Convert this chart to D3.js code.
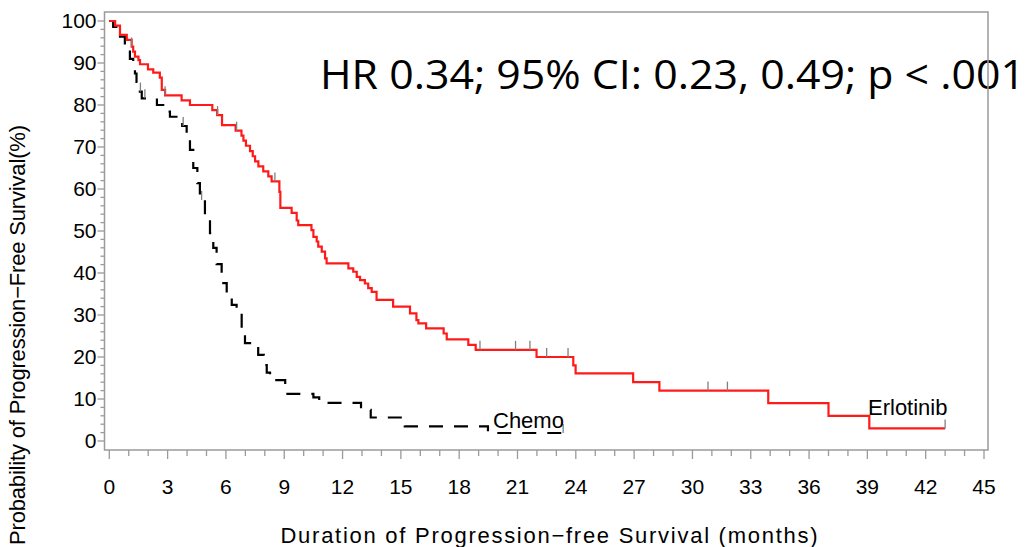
<!DOCTYPE html>
<html lang="en">
<head>
    <meta charset="UTF-8">
    <title>Progression-free Survival</title>
    <script src="https://d3js.org/d3.v7.min.js"></script>
    <style>
        * { margin: 0; padding: 0; box-sizing: border-box; }
        body { background: #fff; width: 1027px; height: 547px; overflow: hidden; }
        text { font-family: "Liberation Sans", Arial, sans-serif; fill: #000; }
    </style>
</head>
<body>
    <div id="chart"></div>

    <script>
        // Kaplan-Meier steps (months, % progression-free)
        const erlotinibTime = [0, 0.3, 0.55, 0.9, 1.15, 1.23, 1.32, 1.5, 1.58, 1.99, 2.26, 2.6, 2.7, 2.87, 3.72, 4.15, 5.3, 5.55, 5.8, 6.5, 6.8, 6.9, 7.03, 7.24, 7.38, 7.5, 7.67, 7.92, 8.18, 8.35, 8.75, 8.8, 9.38, 9.64, 9.72, 10.4, 10.5, 10.67, 10.75, 10.93, 11.1, 11.18, 12.3, 12.55, 12.73, 12.9, 13.15, 13.32, 13.5, 13.75, 14.6, 15.47, 15.8, 15.9, 16.3, 17.2, 17.36, 18.47, 18.85, 21.98, 23.87, 23.99, 26.95, 28.3, 33.9, 37.0, 39.1, 43.0];
        const erlotinibSurv = [100, 98.9, 96.7, 95.5, 93.9, 92.7, 91.5, 90.7, 89.7, 88.5, 87.7, 86.5, 83.6, 82.3, 81.1, 80.0, 78.8, 77.6, 75.2, 73.9, 72.7, 71.5, 70.3, 69.0, 67.8, 66.6, 65.4, 64.2, 63.0, 61.8, 59.3, 55.5, 54.3, 52.5, 51.4, 50.2, 48.6, 47.5, 46.3, 45.1, 43.5, 42.3, 41.1, 40.3, 39.1, 38.3, 37.5, 36.4, 35.5, 33.6, 32.0, 30.4, 28.8, 28.0, 26.8, 25.6, 24.2, 22.9, 21.7, 20.0, 18.0, 16.1, 14.0, 12.0, 9.0, 6.0, 3.0, 3.0];
        const erlotinibCensor = [1.15, 2.87, 5.57, 6.55, 8.52, 19.07, 20.9, 21.64, 22.5, 23.6, 30.8, 31.8, 43.0];

        const chemoTime = [0, 0.2, 0.55, 0.8, 1.06, 1.23, 1.32, 1.4, 1.5, 1.67, 2.45, 2.95, 3.12, 3.75, 3.98, 4.15, 4.32, 4.53, 4.66, 4.92, 5.18, 5.35, 5.52, 5.78, 6.04, 6.3, 6.55, 6.81, 6.98, 7.66, 7.95, 8.1, 8.27, 9.05, 10.5, 10.8, 12.95, 13.45, 15.2, 19.48, 23.35];
        const chemoSurv = [100, 98.6, 96.3, 94.4, 91.0, 88.3, 87.5, 85.5, 83.2, 81.6, 80.0, 78.4, 77.2, 75.0, 72.4, 69.3, 65.0, 61.4, 57.4, 53.8, 49.5, 46.0, 42.1, 37.6, 35.2, 32.4, 30.5, 26.0, 23.3, 20.5, 18.1, 16.3, 14.5, 11.2, 10.4, 9.1, 7.4, 5.6, 3.5, 1.9, 1.9];
        const chemoCensor = [1.6, 1.83, 3.8, 4.75, 23.35];

        const xTicks = d3.range(0, 46, 3);
        const yTicks = d3.range(0, 101, 10);
        const statsLabel = "HR 0.34; 95% CI: 0.23, 0.49; p < .001";

        const width = 1027, height = 547;
        const svg = d3.select("#chart").append("svg")
            .attr("width", width)
            .attr("height", height);

        const x = d3.scaleLinear().domain([0, 45]).range([109.3, 984]);
        const y = d3.scaleLinear().domain([0, 100]).range([441, 21]);

        const frameLeft = 104.5, frameRight = 988, frameTop = 12, frameBottom = 450;
        const grey = "#9a9a9a";

        // stats annotation sits under the frame line
        svg.append("text")
            .attr("x", 320)
            .attr("y", 89)
            .attr("font-size", "41px")
            .style("font-family", "'Open Sans', sans-serif")
            .attr("textLength", 705)
            .attr("lengthAdjust", "spacingAndGlyphs")
            .text(statsLabel);

        // frame
        svg.append("rect")
            .attr("x", frameLeft)
            .attr("y", frameTop)
            .attr("width", frameRight - frameLeft)
            .attr("height", frameBottom - frameTop)
            .attr("fill", "none")
            .attr("stroke", grey)
            .attr("stroke-width", 1.5);

        // x axis ticks: minor every month, major every 3
        const xAxis = svg.append("g").attr("transform", `translate(0,${frameBottom})`);
        xAxis.selectAll("line")
            .data(d3.range(0, 46, 1))
            .enter().append("line")
            .attr("x1", d => x(d)).attr("x2", d => x(d))
            .attr("y1", 0).attr("y2", d => d % 3 === 0 ? 9 : 6)
            .attr("stroke", grey).attr("stroke-width", 1.3);
        xAxis.selectAll("text")
            .data(xTicks)
            .enter().append("text")
            .attr("x", d => x(d))
            .attr("y", 44)
            .attr("text-anchor", "middle")
            .attr("font-size", "21px")
            .text(d => d);

        // y axis ticks: minor every 2%, major every 10%
        const yAxis = svg.append("g").attr("transform", `translate(${frameLeft},0)`);
        yAxis.selectAll("line")
            .data(d3.range(0, 101, 2))
            .enter().append("line")
            .attr("y1", d => y(d)).attr("y2", d => y(d))
            .attr("x1", d => d % 10 === 0 ? -7 : -4).attr("x2", 0)
            .attr("stroke", grey).attr("stroke-width", 1.3);
        yAxis.selectAll("text")
            .data(yTicks)
            .enter().append("text")
            .attr("x", -8)
            .attr("y", d => y(d) + 7)
            .attr("text-anchor", "end")
            .attr("font-size", "21px")
            .text(d => d);

        // axis titles
        svg.append("text")
            .attr("x", 549)
            .attr("y", 543)
            .attr("text-anchor", "middle")
            .attr("font-size", "22px")
            .attr("textLength", 537)
            .attr("lengthAdjust", "spacing")
            .text("Duration of Progression\u2212free Survival (months)");

        svg.append("text")
            .attr("transform", "translate(25,335) rotate(-90)")
            .attr("text-anchor", "middle")
            .attr("font-size", "22px")
            .attr("textLength", 420)
            .attr("lengthAdjust", "spacing")
            .text("Probability of Progression\u2212Free Survival(%)");

        // survival curves
        const line = d3.line()
            .x(d => x(d[0]))
            .y(d => y(d[1]))
            .curve(d3.curveStepAfter);

        function survAt(times, surv, t) {
            const i = d3.bisectRight(times, t) - 1;
            return surv[Math.max(0, i)];
        }

        function drawCurve(times, surv, censor, color, dash) {
            svg.append("path")
                .datum(times.map((t, i) => [t, surv[i]]))
                .attr("d", line)
                .attr("fill", "none")
                .attr("stroke", color)
                .attr("stroke-width", 2.2)
                .attr("stroke-dasharray", dash);

            svg.selectAll(null)
                .data(censor)
                .enter().append("line")
                .attr("x1", d => x(d)).attr("x2", d => x(d))
                .attr("y1", d => y(survAt(times, surv, d)) - 9)
                .attr("y2", d => y(survAt(times, surv, d)))
                .attr("stroke", "#808080")
                .attr("stroke-width", 1.3);
        }

        drawCurve(chemoTime, chemoSurv, chemoCensor, "#000", "14,11");
        drawCurve(erlotinibTime, erlotinibSurv, erlotinibCensor, "#ff1a1a", null);

        // curve labels
        svg.append("text")
            .attr("x", 493).attr("y", 428)
            .attr("font-size", "22px")
            .text("Chemo");
        svg.append("text")
            .attr("x", 868).attr("y", 415)
            .attr("font-size", "22px")
            .text("Erlotinib");
    </script>
</body>
</html>
